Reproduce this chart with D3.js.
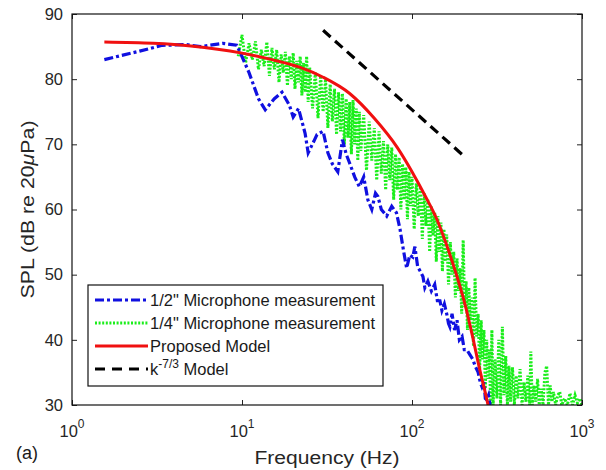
<!DOCTYPE html>
<html>
<head>
<meta charset="utf-8">
<script src="https://cdn.jsdelivr.net/npm/d3@7"></script>
<style>
  body { margin: 0; background: #fff; }
  svg { font-family: "Liberation Sans", Arial, sans-serif; }
</style>
</head>
<body>
<svg id="chart" width="606" height="470"></svg>
<script>
// axis ticks
var xTicks = [1, 10, 100, 1000];
var xTickExp = ["0", "1", "2", "3"];
var yTicks = [30, 40, 50, 60, 70, 80, 90];

// legend
var legendNames = ['1/2" Microphone measurement', '1/4" Microphone measurement', 'Proposed Model', 'k'];

// 1/2" microphone, [Hz, dB]
var halfMic = [
  [1.55,83.0],[2.5,84.3],[3.4,85.2],[4.7,85.3],[5.7,85.0],[7.7,85.5],[9.3,85.2],[9.8,84],
  [11,81],[12.5,77],[13.7,75.3],[15.5,77],[17.2,78],[19,76],[20,74.2],[21.5,75.5],
  [23.5,71.7],[24.5,68.7],[26.5,70.5],[27.6,71.5],[30,72],[32,68.7],[34,67],[36.6,65.8],
  [39,70.7],[41,68.5],[43,67.1],[46,65],[49,63.5],[52,65],[55,61.5],[58,60],[61,62.5],
  [63,62],[66,60],[71,59],[76,60.5],[81,59.5],[85,57],[89,53.8],[93,51],[97,53],
  [101,52.7],[104,54.3],[108,51.2],[112,50.5],[116,49.7],[119,48],[124,49],[130,47.5],
  [136,48.5],[141,46],[146,46],[150,44.5],[155,45.5],[160,44],[164,42.5],[167,42],
  [172,44],[178,41.5],[184,43],[190,40],[197,40.5],[203,38.5],[210,38.5],[218,37.8],
  [228,37],[235,36],[245,35],[252,33.5],[258,32.8],[265,33.5],[270,31],[275,30.8],
  [282,31.5],[290,29.5]
];

// 1/4" microphone, [Hz, dB]
var quarterMic = [
  [9.5,83.5],[10,86.8],[10.5,82.5],[11,85.5],[11.5,83],[12,85.8],[12.5,81.5],[13,84.5],
  [13.5,82],[14,85.7],[14.5,80.5],[15,84.8],[15.5,81.5],[16,84.5],[16.5,79.5],[17,83.8],
  [17.5,81],[18,84.2],[18.5,79],[19,83.5],[19.5,80],[20,84],[20.5,78.5],[21,82.8],
  [21.5,79.5],[22,83.5],[22.5,77.5],[23,82.5],[23.5,78],[24,83.5],[24.5,76.5],[25,81.8],
  [26,75.5],[27,81],[28,74],[29,80.5],[30,75],[31,80],[32,72.5],[33,79.2],[34,73.5],
  [35,78.5],[36,71.5],[37,78],[38,72],[39,77.8],[40,70],[41,77],[42,71],[43,76.5],
  [44,68.5],[45,76.8],[46,70],[47,75.5],[48,67.5],[49,75],[50,69],[52,74.5],[54,66],
  [56,73.5],[58,67.5],[60,72.5],[62,64.5],[64,72],[66,65.5],[68,70.5],[70,63],[72,70],
  [74,64.5],[76,69.5],[78,61.5],[80,68.5],[82,63],[84,68],[86,60],[88,67],[90,61.5],
  [92,66.5],[94,58.5],[96,65.8],[98,60.5],[100,65],[103,57],[106,64],[109,59],[112,63.5],
  [115,55.5],[118,62.5],[121,57.5],[124,61.5],[127,53.5],[130,60.5],[133,56],[136,59.5],
  [139,52],[142,59],[145,53.5],[148,58],[151,50.5],[154,57],[157,52],[160,56.2],
  [164,48.5],[168,55],[172,50],[176,53.5],[180,46.5],[184,52.5],[188,47.5],[192,51],
  [196,44],[200,55.3],[204,45],[208,49],[212,41.5],[216,48],[220,43],[225,46.5],
  [230,39],[235,49.5],[240,40.5],[245,44],[250,35.5],[255,43],[260,37],[265,41.5],
  [270,32.5],[275,40],[280,34],[285,38.5],[290,30],[295,41.5],[300,30],[308,37],
  [316,31],[324,40],[332,30],[340,42],[348,31.5],[356,37.5],[364,30],[372,36],
  [380,30.5],[390,35.8],[400,30],[410,34.5],[420,31],[432,35.5],[444,30],[456,33.5],
  [468,30.5],[480,34.5],[492,30],[500,38.2],[510,30],[522,33],[535,30.5],[548,34],
  [560,30],[575,32.5],[590,30],[605,35],[620,36],[635,30],[650,33],[665,30.5],
  [680,32],[700,30],[720,31.5],[740,32],[760,30],[790,31],[820,30],[850,31.8],
  [880,30],[910,31.5],[940,30.3],[970,31],[1000,30]
];

// proposed model, [Hz, dB]
var model = [
  [1.55,85.7],[3,85.5],[5,85.1],[10,84.0],[15,83.0],[22,81.8],[30,80.3],[43,77.8],
  [60,74],[82,69.5],[100,65.8],[120,62],[140,58.5],[160,54.5],[180,50.5],[200,46.5],
  [225,41],[250,35.5],[280,30],[285,29]
];

// k^-7/3 reference line, [Hz, dB]
var kLine = [[30,87.5],[200,68.3]];

var svg = d3.select('#chart');
var margin = {top: 14, right: 24, bottom: 65, left: 72};
var width = 606 - margin.left - margin.right;
var height = 470 - margin.top - margin.bottom;

var x = d3.scaleLog().domain([1, 1000]).range([margin.left, margin.left + width]);
var y = d3.scaleLinear().domain([30, 90]).range([margin.top + height, margin.top]);

svg.append('defs').append('clipPath').attr('id', 'plotclip')
  .append('rect')
  .attr('x', margin.left).attr('y', margin.top)
  .attr('width', width).attr('height', height);

var line = d3.line().x(d => x(d[0])).y(d => y(d[1]));
var smooth = d3.line().curve(d3.curveMonotoneX).x(d => x(d[0])).y(d => y(d[1]));
var plot = svg.append('g').attr('clip-path', 'url(#plotclip)');

//green dotted
plot.append('path')
  .datum(quarterMic)
  .attr('d', line)
  .attr('fill', 'none')
  .attr('stroke', '#1aee1a')
  .attr('stroke-width', 3)
  .attr('stroke-dasharray', '2,1.6');

//blue dash-dot
plot.append('path')
  .datum(halfMic)
  .attr('d', line)
  .attr('fill', 'none')
  .attr('stroke', '#1010e0')
  .attr('stroke-width', 3.2)
  .attr('stroke-dasharray', '9,3,3,3');

//red model
plot.append('path')
  .datum(model)
  .attr('d', smooth)
  .attr('fill', 'none')
  .attr('stroke', '#f01010')
  .attr('stroke-width', 3);

//black dashed
plot.append('path')
  .datum(kLine)
  .attr('d', line)
  .attr('fill', 'none')
  .attr('stroke', '#000')
  .attr('stroke-width', 3.2)
  .attr('stroke-dasharray', '10,6');

//axes box and inward ticks
var tickLen = 5;
svg.append('g')
  .attr('transform', 'translate(0,' + (margin.top + height) + ')')
  .call(d3.axisBottom(x).tickValues(xTicks).tickSize(-tickLen).tickFormat(''))
  .call(g => g.select('.domain').remove());
svg.append('g')
  .attr('transform', 'translate(0,' + margin.top + ')')
  .call(d3.axisTop(x).tickValues(xTicks).tickSize(-tickLen).tickFormat(''))
  .call(g => g.select('.domain').remove());
var yAxis = svg.append('g')
  .attr('transform', 'translate(' + margin.left + ',0)')
  .call(d3.axisLeft(y).tickValues(yTicks).tickSize(-tickLen).tickPadding(9))
  .call(g => g.select('.domain').remove());
yAxis.selectAll('text')
  .attr('font-size', 16.5)
  .attr('font-family', '"Liberation Sans", Arial, sans-serif')
  .attr('fill', '#262626');
svg.append('g')
  .attr('transform', 'translate(' + (margin.left + width) + ',0)')
  .call(d3.axisRight(y).tickValues(yTicks).tickSize(-tickLen).tickFormat(''))
  .call(g => g.select('.domain').remove());
svg.selectAll('.tick line').attr('stroke', '#222');

svg.append('rect')
  .attr('x', margin.left).attr('y', margin.top)
  .attr('width', width).attr('height', height)
  .attr('fill', 'none')
  .attr('stroke', '#111')
  .attr('stroke-width', 1.2);

//x tick labels with exponents
var xl = svg.selectAll('.xlab').data(xTicks).enter()
  .append('text')
  .attr('class', 'xlab')
  .attr('x', d => x(d))
  .attr('y', margin.top + height + 32)
  .attr('text-anchor', 'middle')
  .attr('font-size', 16.5)
  .attr('fill', '#262626');
xl.append('tspan').text('10');
xl.append('tspan')
  .attr('dy', -9)
  .attr('font-size', 12)
  .text((d, i) => xTickExp[i]);

//axis labels
svg.append('text')
  .attr('x', margin.left + width / 2)
  .attr('y', 464)
  .attr('text-anchor', 'middle')
  .attr('font-size', 18)
  .attr('textLength', 145)
  .attr('lengthAdjust', 'spacingAndGlyphs')
  .attr('fill', '#262626')
  .text('Frequency (Hz)');

var yl = svg.append('text')
  .attr('transform', 'translate(34,' + (margin.top + height / 2) + ') rotate(-90)')
  .attr('text-anchor', 'middle')
  .attr('font-size', 18)
  .attr('textLength', 178)
  .attr('lengthAdjust', 'spacingAndGlyphs')
  .attr('fill', '#262626');
yl.append('tspan').text('SPL (dB re 20');
yl.append('tspan').attr('font-style', 'italic').text('\u03bc');
yl.append('tspan').text('Pa)');

svg.append('text')
  .attr('x', 16).attr('y', 459)
  .attr('font-size', 18)
  .attr('fill', '#1a1a1a')
  .text('(a)');

//legend
var lg = svg.append('g').attr('transform', 'translate(88,285)');
lg.append('rect')
  .attr('width', 295).attr('height', 101)
  .attr('fill', '#fff')
  .attr('stroke', '#111')
  .attr('stroke-width', 1.2);

var legStyles = [
  {stroke: '#1010e0', w: 3.2, dash: '9,3,3,3'},
  {stroke: '#1aee1a', w: 3, dash: '2,1.6'},
  {stroke: '#f01010', w: 3, dash: null},
  {stroke: '#000', w: 3.2, dash: '10,7'}
];
legendNames.forEach((name, i) => {
  var cy = 15 + i * 23;
  lg.append('line')
    .attr('x1', 7).attr('x2', 60)
    .attr('y1', cy).attr('y2', cy)
    .attr('stroke', legStyles[i].stroke)
    .attr('stroke-width', legStyles[i].w)
    .attr('stroke-dasharray', legStyles[i].dash);
  var t = lg.append('text')
    .attr('x', 62).attr('y', cy + 6)
    .attr('font-size', 16.5)
    .attr('fill', '#1a1a1a')
    .text(name);
  if (i == 3) {
    t.append('tspan').attr('dy', -7).attr('font-size', 12).text('-7/3');
    t.append('tspan').attr('dy', 7).text(' Model');
  }
});
</script>
</body>
</html>
